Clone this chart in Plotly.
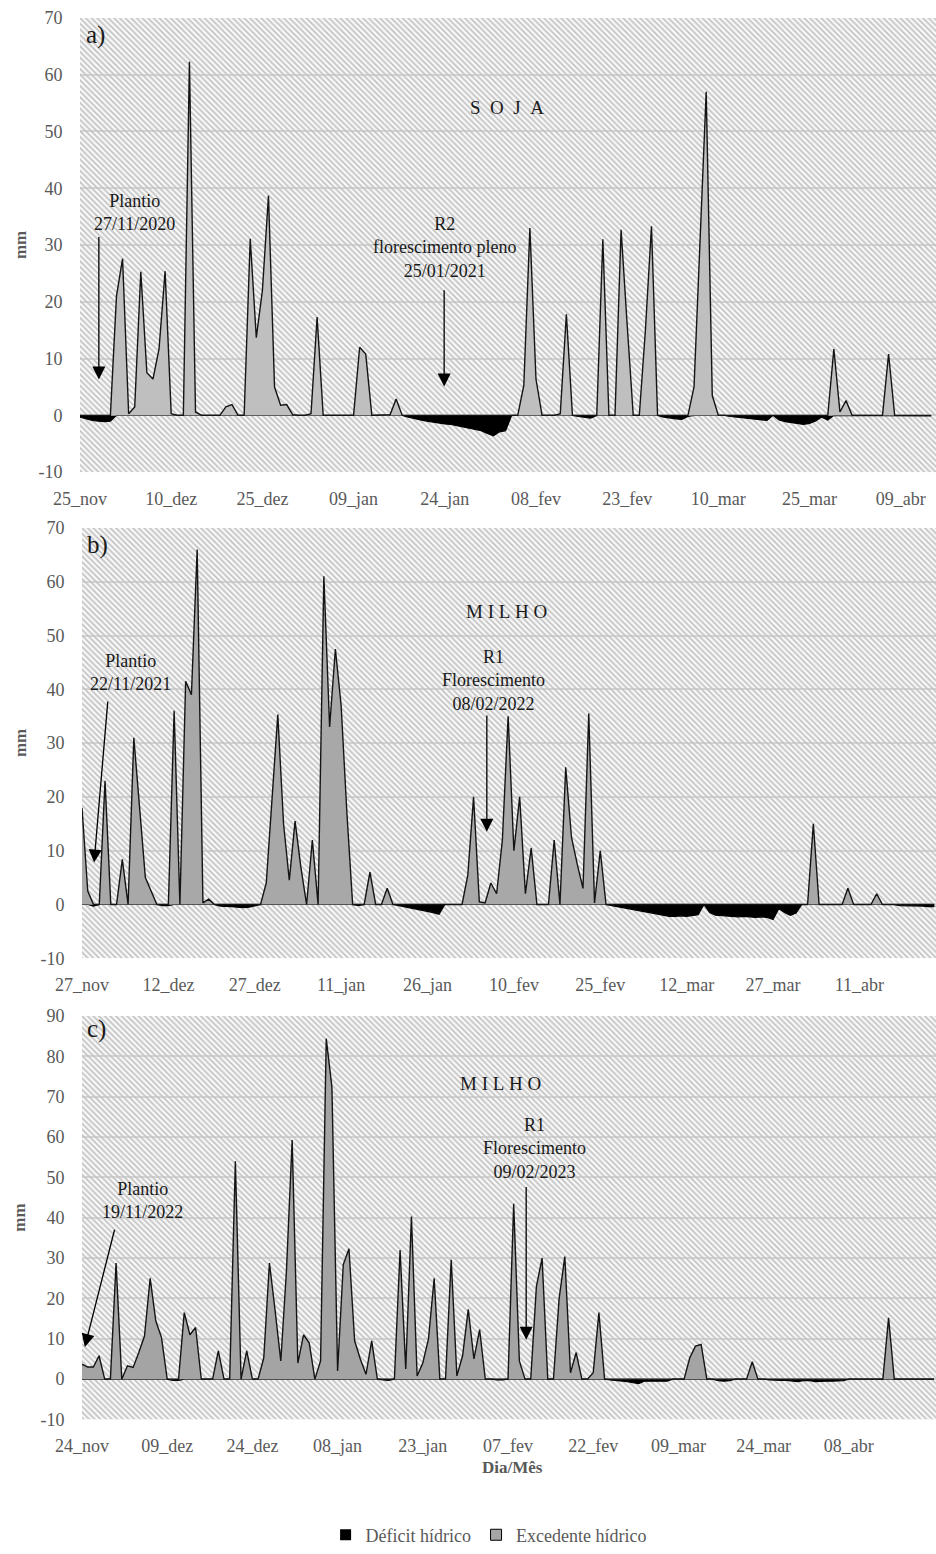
import pandas as pd
import plotly.graph_objects as go

# ---------------- data ----------------
MESES = {1: "jan", 2: "fev", 3: "mar", 4: "abr", 5: "mai", 6: "jun",
         7: "jul", 8: "ago", 9: "set", 10: "out", 11: "nov", 12: "dez"}

soja_inicio = "2020-11-25"
milho_2122_inicio = "2021-11-27"
milho_2223_inicio = "2022-11-24"

soja_ticks = ["25_nov", "10_dez", "25_dez", "09_jan", "24_jan", "08_fev",
              "23_fev", "10_mar", "25_mar", "09_abr"]
milho_2122_ticks = ["27_nov", "12_dez", "27_dez", "11_jan", "26_jan", "10_fev",
                    "25_fev", "12_mar", "27_mar", "11_abr"]
milho_2223_ticks = ["24_nov", "09_dez", "24_dez", "08_jan", "23_jan", "07_fev",
                    "22_fev", "09_mar", "24_mar", "08_abr"]

y_ticks_70 = [-10, 0, 10, 20, 30, 40, 50, 60, 70]
y_ticks_90 = [-10, 0, 10, 20, 30, 40, 50, 60, 70, 80, 90]

# daily water balance (mm): positive = excedente, negative = deficit
soja_balanco = [
    -0.3, -0.6, -0.9, -1.0, -1.1, -1.0, 21, 27.6, 0.3, 1.5,
    25.3, 7.5, 6.4, 11.7, 25.4, 0.3, 0, 0, 62.3, 0.6,
    -0.1, -0.1, -0.1, 0, 1.5, 1.9, 0, 0, 31.1, 13.7,
    22, 38.7, 5, 1.8, 1.9, 0.1, -0.1, -0.1, 0.3, 17.3,
    0, 0, -0.1, -0.1, -0.1, 0, 12, 10.8, 0, 0,
    0.1, 0.1, 2.9, 0, -0.3, -0.6, -0.8, -1.0, -1.2, -1.3,
    -1.5, -1.6, -1.8, -2.0, -2.2, -2.4, -2.7, -3.2, -3.6, -2.9,
    -2.7, 0, 0, 5.3, 33, 6.4, 0, 0, 0, 0.3,
    17.8, 0, -0.2, -0.3, -0.5, 0, 31, 0, 0, 32.7,
    16, 0, 0, 15, 33.3, 0, -0.3, -0.5, -0.6, -0.7,
    -0.2, 5, 30, 57, 3.5, 0, 0, -0.2, -0.3, -0.5,
    -0.6, -0.7, -0.8, -0.9, 0, -0.8, -1.1, -1.3, -1.5, -1.6,
    -1.4, -1.0, -0.3, -0.8, 11.7, 0.6, 2.6, 0, 0, 0,
    0, 0, 0, 10.8, 0, 0, 0, -0.1, -0.1, -0.1,
    -0.1,
]

milho_2122_balanco = [
    18, 2.5, -0.3, 0, 23, 0, 0, 8.4, 0, 31,
    18, 5, 2.5, 0, -0.2, -0.2, 36, 0, 41.5, 39,
    66, 0.3, 1, 0, -0.3, -0.3, -0.4, -0.5, -0.6, -0.5,
    -0.2, 0, 4, 19, 35.3, 15, 4.5, 15.5, 7, 0,
    12, 0, 61, 33, 47.5, 37, 17, 0, -0.2, 0,
    6, 0, 0, 3, 0, -0.2, -0.4, -0.6, -0.8, -1.0,
    -1.2, -1.5, -1.8, 0, 0, 0, 0, 5.5, 20, 0.5,
    0.3, 4, 2, 12, 35, 10, 20, 2, 10.5, 0,
    0, 0, 12, 0, 25.5, 12.5, 7.5, 3, 35.5, 0.3,
    10, 0, -0.2, -0.4, -0.6, -0.8, -1.0, -1.2, -1.4, -1.6,
    -1.8, -2.0, -2.2, -2.2, -2.1, -2.2, -2.0, -1.9, 0, -1.5,
    -2.0, -2.1, -2.1, -2.2, -2.3, -2.2, -2.3, -2.4, -2.3, -2.4,
    -2.8, -0.8, -1.5, -2.0, -1.6, 0, 0, 15, 0, 0,
    0, 0, 0, 3, 0, 0, 0, 0, 2, 0,
    0, 0, -0.2, -0.2, -0.2, -0.3, -0.3, -0.4, -0.4,
]

milho_2223_balanco = [
    3.7, 3, 3, 5.8, 0, 0, 28.8, 0, 3.3, 2.9,
    6.6, 10.7, 25, 14.4, 10.3, 0, -0.3, -0.3, 16.5, 11,
    12.8, 0, 0, 0, 7, 0, 0, 54, 0, 7,
    0, 0, 5.3, 28.8, 17, 4.5, 27, 59.3, 4, 11,
    9, 0, 4.5, 84.4, 72.4, 2, 28.4, 32.3, 9.5, 5,
    1.2, 9.5, 0, -0.2, -0.3, 0, 32, 2.5, 40.3, 0.8,
    4, 10, 25, 0, 0, 29.6, 0.8, 5.8, 17.3, 5,
    12.3, 0, 0, -0.2, -0.2, 0, 43.5, 4.5, 0, 0,
    23, 30, 0, 0, 20, 30.4, 1.6, 6.6, 0, 0,
    1.6, 16.5, 0, -0.2, -0.3, -0.4, -0.6, -0.9, -1.1, -0.5,
    -0.5, -0.5, -0.5, -0.5, 0, 0, 0, 5.3, 8.2, 8.6,
    0, 0, -0.4, -0.5, -0.4, 0, 0, 0, 4.3, 0,
    0, -0.2, -0.3, -0.3, -0.3, -0.4, -0.6, -0.4, -0.3, -0.6,
    -0.5, -0.5, -0.5, -0.5, -0.4, 0, 0, 0, 0, 0,
    0, 0, 15.2, 0, 0, 0, 0, 0, 0, 0,
    0,
]

# ---------------- styling ----------------
FONT = "Liberation Serif"
GRAY_TXT = "#595959"
DARK_TXT = "#1a1a1a"
W, H = 936, 1554


def rotulos(inicio, n):
    datas = pd.date_range(inicio, periods=n, freq="D")
    return [f"{d.day:02d}_{MESES[d.month]}" for d in datas]


panels = [
    dict(inicio=soja_inicio, vals=soja_balanco, ticks=soja_ticks, yt=y_ticks_70,
         xdom=(80, W), ydom=(18, 474), xr_end=140.8, fill="#bfbfbf"),
    dict(inicio=milho_2122_inicio, vals=milho_2122_balanco, ticks=milho_2122_ticks,
         yt=y_ticks_70, xdom=(82, W), ydom=(530, 962), xr_end=148.3,
         fill="#a8a8a8"),
    dict(inicio=milho_2223_inicio, vals=milho_2223_balanco, ticks=milho_2223_ticks,
         yt=y_ticks_90, xdom=(82, W), ydom=(1020, 1425), xr_end=150.35,
         fill="#a4a4a4"),
]

fig = go.Figure()
layout_axes = {}

for i, p in enumerate(panels, start=1):
    sfx = "" if i == 1 else str(i)
    xa, ya = "x" + sfx, "y" + sfx
    cats = rotulos(p["inicio"], len(p["vals"]))
    exced = [max(v, 0) for v in p["vals"]]
    defic = [min(v, 0) for v in p["vals"]]
    ymin, ymax = p["yt"][0], p["yt"][-1]

    fig.add_trace(go.Scatter(
        x=cats, y=defic, mode="lines", xaxis=xa, yaxis=ya,
        line=dict(color="#000000", width=1.2), fill="tozeroy",
        fillcolor="#000000", name="Déficit hídrico", showlegend=False,
        legendgroup="def",
    ))
    fig.add_trace(go.Scatter(
        x=cats, y=exced, mode="lines", xaxis=xa, yaxis=ya,
        line=dict(color="#141414", width=1.4), fill="tozeroy",
        fillcolor=p["fill"], name="Excedente hídrico", showlegend=False,
        legendgroup="exc",
    ))
    # hatched plot background (bar layer is drawn beneath the area traces)
    fig.add_trace(go.Bar(
        x=[cats[len(cats) // 2]], y=[ymax - ymin], base=[ymin],
        width=[len(cats) + 6], xaxis=xa, yaxis=ya, showlegend=False,
        hoverinfo="skip",
        marker=dict(color="rgba(0,0,0,0)", line=dict(width=0),
                    pattern=dict(shape="\\", fgcolor="#c2c2c2",
                                 bgcolor="rgba(0,0,0,0)", size=4,
                                 solidity=0.42, fillmode="replace")),
    ))

    layout_axes["xaxis" + sfx] = dict(
        type="category", categoryorder="array", categoryarray=cats,
        domain=[p["xdom"][0] / W, p["xdom"][1] / W],
        anchor=ya, range=[0, p["xr_end"]], tickmode="array",
        tickvals=p["ticks"], ticktext=p["ticks"], showgrid=False,
        zeroline=False, showline=False, ticks="outside", ticklen=10,
        tickcolor="rgba(0,0,0,0)",
        tickfont=dict(family=FONT, size=18, color=GRAY_TXT),
    )
    layout_axes["yaxis" + sfx] = dict(
        domain=[1 - p["ydom"][1] / H, 1 - p["ydom"][0] / H], anchor=xa,
        range=[ymin, ymax], tickmode="array", tickvals=p["yt"],
        ticktext=[str(v) for v in p["yt"]], showgrid=True,
        gridcolor="#d4d4d4", gridwidth=1.5, zeroline=False, showline=False,
        ticks="outside", ticklen=13, tickcolor="rgba(0,0,0,0)",
        tickfont=dict(family=FONT, size=18, color=GRAY_TXT),
    )

# legend entries
fig.add_trace(go.Scatter(
    x=[None], y=[None], mode="markers", name="Déficit hídrico",
    marker=dict(symbol="square", size=11, color="#000000"),
    legendgroup="def",
))
fig.add_trace(go.Scatter(
    x=[None], y=[None], mode="markers", name="Excedente hídrico",
    marker=dict(symbol="square", size=11, color="#a6a6a6",
                line=dict(color="#000000", width=1)),
    legendgroup="exc",
))

ann = []


def label(text, x, y, xref, yref, size=18, **kw):
    ann.append(dict(text=text, x=x, y=y, xref=xref, yref=yref, showarrow=False,
                    font=dict(family=FONT, size=size, color=DARK_TXT), **kw))


def arrow(xt, yt, xs, ys, xref, yref):
    ann.append(dict(text="", x=xt, y=yt, ax=xs, ay=ys, xref=xref, yref=yref,
                    axref=xref, ayref=yref, showarrow=True, arrowhead=2,
                    arrowsize=2, arrowwidth=1.3, arrowcolor="#000000",
                    standoff=0, startstandoff=0))


# panel a
label("a)", 0.6, 67, "x", "y", size=25, xanchor="left")
label("S\u00a0\u00a0O\u00a0\u00a0J\u00a0\u00a0A", 70.2, 54.2, "x", "y", size=19)
label("Plantio<br>27/11/2020", 9.0, 35.8, "x", "y")
arrow(3.1, 6.3, 3.1, 31.7, "x", "y")
label("R2<br>florescimento pleno<br>25/01/2021", 59.9, 29.5, "x", "y")
arrow(59.9, 5.1, 59.9, 22.3, "x", "y")

# panel b
label("b)", 0.5, 66.9, "x2", "y2", size=25, xanchor="left")
label("M\u00a0I\u00a0L\u00a0H\u00a0O", 73.8, 54.4, "x2", "y2", size=19)
label("Plantio<br>22/11/2021", 8.5, 43.1, "x2", "y2")
arrow(2.1, 7.8, 4.5, 38.0, "x2", "y2")
label("R1<br>Florescimento<br>08/02/2022", 71.4, 41.7, "x2", "y2")
arrow(70.3, 13.5, 70.3, 35.4, "x2", "y2")

# panel c
label("c)", 0.5, 86.8, "x3", "y3", size=25, xanchor="left")
label("M\u00a0I\u00a0L\u00a0H\u00a0O", 73.6, 73.2, "x3", "y3", size=19)
label("Plantio<br>19/11/2022", 10.7, 44.3, "x3", "y3")
arrow(0.5, 8.0, 5.8, 37.4, "x3", "y3")
label("R1<br>Florescimento<br>09/02/2023", 79.6, 57.2, "x3", "y3")
arrow(78.2, 9.75, 78.2, 48.0, "x3", "y3")

# axis titles
for p in panels:
    yc = 1 - (p["ydom"][0] + p["ydom"][1]) / 2 / H
    ann.append(dict(text="<b>mm</b>", x=20 / W, y=yc, xref="paper", yref="paper",
                    xanchor="center", yanchor="middle",
                    showarrow=False, textangle=-90,
                    font=dict(family=FONT, size=17, color=GRAY_TXT)))
ann.append(dict(text="<b>Dia/Mês</b>", x=512 / W, y=1 - 1473 / H, xref="paper",
                yref="paper", xanchor="center", yanchor="middle",
                showarrow=False,
                font=dict(family=FONT, size=17, color=GRAY_TXT)))

fig.update_layout(
    template="none",
    width=W, height=H,
    margin=dict(l=0, r=0, t=0, b=0),
    paper_bgcolor="#ffffff",
    plot_bgcolor="#f8f8f8",
    showlegend=True,
    legend=dict(orientation="h", x=0.522, xanchor="center",
                y=1 - 1541 / H, yanchor="middle",
                font=dict(family=FONT, size=18, color=GRAY_TXT),
                itemwidth=30, bgcolor="rgba(0,0,0,0)"),
    annotations=ann,
    **layout_axes,
)

fig.write_html("out.html")
